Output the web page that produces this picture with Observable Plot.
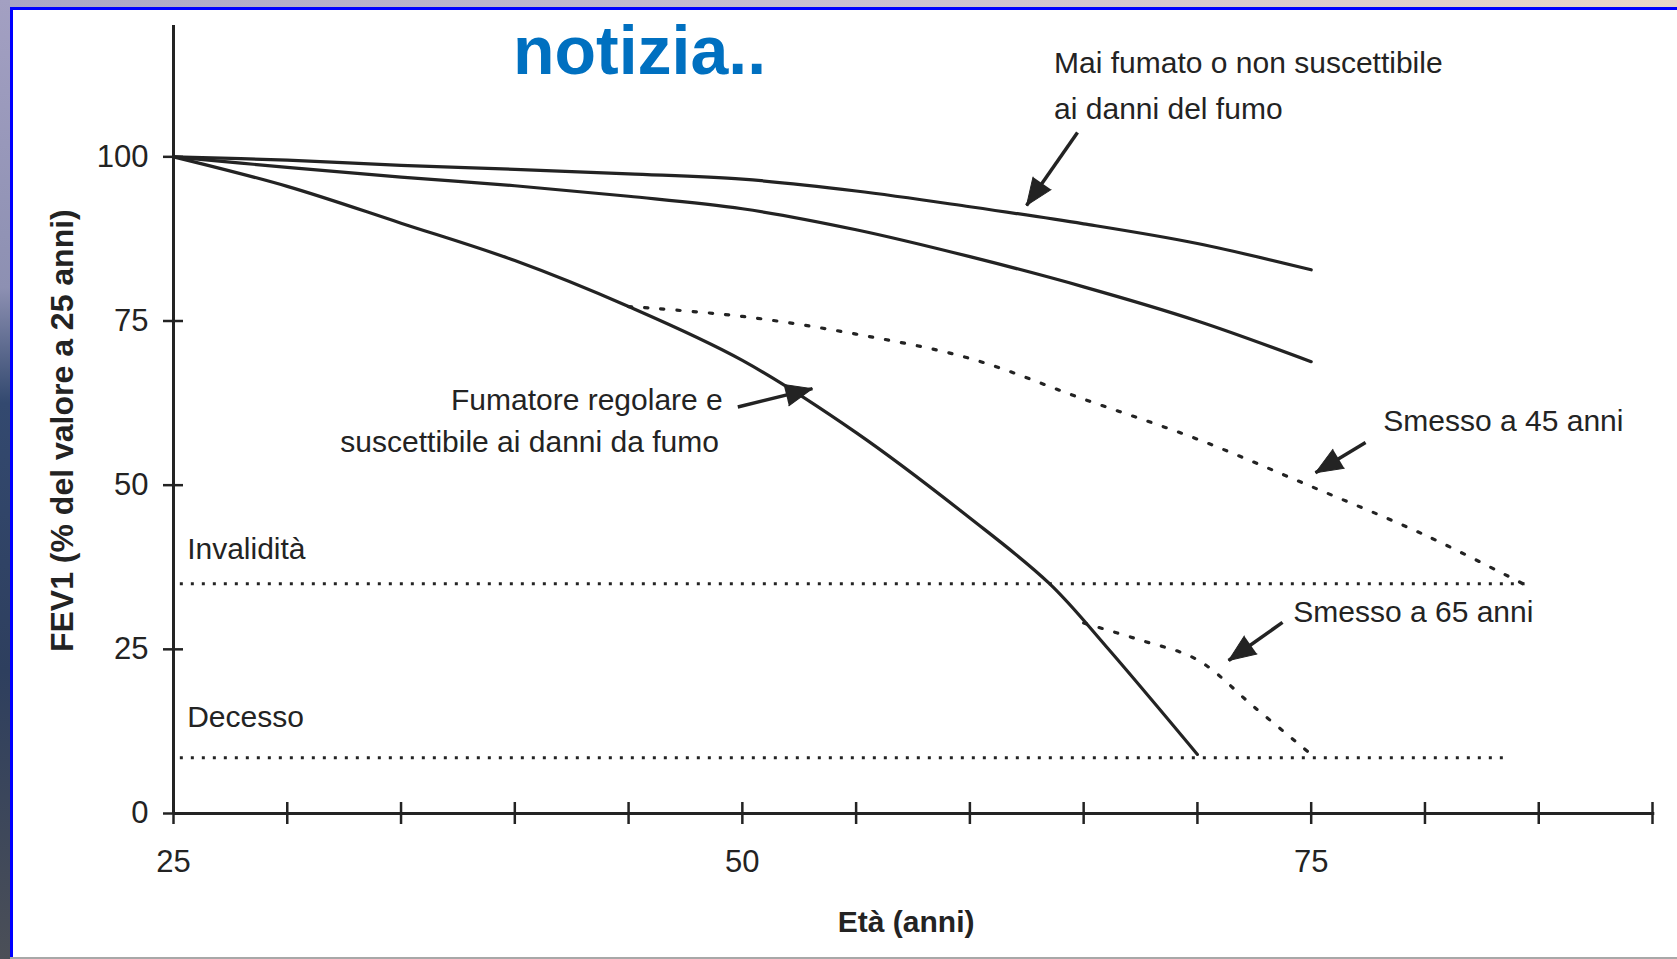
<!DOCTYPE html>
<html><head><meta charset="utf-8">
<script src="https://cdn.jsdelivr.net/npm/d3@7"></script>
<script src="https://cdn.jsdelivr.net/npm/@observablehq/plot@0.6"></script>
<style>
html,body{margin:0;padding:0;width:1677px;height:959px;overflow:hidden;}
body{position:relative;background:linear-gradient(to right,#a9a5c6 0%,#c9bfd2 50%,#e9d6c8 100%);font-family:"Liberation Sans",Arial,sans-serif;}
#leftstrip{position:absolute;left:0;top:0;width:10px;height:959px;background:linear-gradient(to bottom,#a3a0c2 0%,#8d90b2 30%,#33496f 42%,#2e3f5e 70%,#4b4f57 100%);}
#frame{position:absolute;left:10px;top:7px;width:1667px;height:950px;box-sizing:border-box;border-left:3px solid #0000ff;border-top:3px solid #0000ff;background:#fff;}
#bottomline{position:absolute;left:10px;top:957px;width:1667px;height:2px;background:#a8a8a8;}
#title{position:absolute;left:513px;top:16px;font:bold 68px "Liberation Sans",Arial,sans-serif;line-height:68px;color:#0070c0;white-space:nowrap;}
#chart{position:absolute;left:0;top:0;}
</style></head><body>
<div id="leftstrip"></div><div id="frame"></div><div id="bottomline"></div>
<div id="chart"></div>
<div id="title">notizia..</div>
<script>
// ---- data ----
const etaMai = [25, 30, 35, 40, 45, 50, 55, 60, 65, 70, 75];
const fevMai = [100, 99.5, 98.7, 98.1, 97.4, 96.6, 94.8, 92.4, 89.8, 86.8, 82.8];

const etaIntermedia = [25, 30, 35, 40, 45, 50, 55, 60, 65, 70, 75];
const fevIntermedia = [100, 98.4, 96.9, 95.6, 94.0, 92.1, 88.9, 84.8, 80.2, 75.0, 68.8];

const etaFumatore = [25, 30, 35, 40, 45, 50, 55, 60, 63.5, 66, 70];
const fevFumatore = [100, 95.5, 89.9, 84.2, 77.2, 69.0, 58.0, 45.0, 35.0, 25.4, 9.0];

const etaSmesso45 = [45, 50, 55, 60, 65, 70, 75, 80, 84.3];
const fevSmesso45 = [77.2, 75.7, 73.0, 69.3, 63.1, 57.0, 49.8, 42.4, 35.0];

const etaSmesso65 = [65, 67.5, 70, 72.5, 75];
const fevSmesso65 = [29.0, 26.4, 23.4, 16.2, 9.0];

const soglieNomi = ["Invalidità", "Decesso"];
const soglieValori = [35, 8.5];
const soglieDa = [25.3, 25.3];
const soglieA = [84.4, 83.5];

const xTickVals = [25, 30, 35, 40, 45, 50, 55, 60, 65, 70, 75, 80, 85, 90];
const xLabelVals = [25, 50, 75];
const yTickVals = [0, 25, 50, 75, 100];

const etichette = ["Mai fumato o non suscettibile", "ai danni del fumo", "Fumatore regolare e", "suscettibile ai danni da fumo", "Smesso a 45 anni", "Smesso a 65 anni", "Invalidità", "Decesso"];
const etichetteX = [63.7, 63.7, 49.14, 48.97, 78.17, 74.21, 25.6, 25.6];
const etichetteY = [112.8, 105.8, 61.5, 55.0, 58.3, 29.1, 38.8, 13.2];
const etichetteAnchor = ["start", "start", "end", "end", "start", "start", "start", "start"];

const frecceX1 = [64.73, 49.8, 77.39, 73.74];
const frecceY1 = [103.7, 61.9, 56.5, 29.1];
const frecceX2 = [62.49, 53.08, 75.19, 71.37];
const frecceY2 = [92.6, 64.7, 51.9, 23.3];

const titoloX = "Età (anni)";
const titoloY = "FEV1 (% del valore a 25 anni)";

// ---- layout ----
const W = 1677, H = 959, mL = 173, mR = 25, mT = 25, mB = 146;
const xDom = [25, 90], yDom = [0, 120];
const kx = (W - mL - mR) / (xDom[1] - xDom[0]);
const ky = (H - mT - mB) / (yDom[1] - yDom[0]);
const ink = "#232323";
const font = "'Liberation Sans', Arial, sans-serif";

const toRows = (serie, eta, fev) => eta.map((e, i) => ({serie, eta: e, fev: fev[i]}));
const solide = [
  ...toRows("mai", etaMai, fevMai),
  ...toRows("intermedia", etaIntermedia, fevIntermedia),
  ...toRows("fumatore", etaFumatore, fevFumatore)
];
const tratteggiate = [
  ...toRows("smesso45", etaSmesso45, fevSmesso45),
  ...toRows("smesso65", etaSmesso65, fevSmesso65)
];
const soglie = soglieNomi.map((n, i) => ({nome: n, fev: soglieValori[i], da: soglieDa[i], a: soglieA[i]}));
const labels = etichette.map((t, i) => ({t, x: etichetteX[i], y: etichetteY[i], anchor: etichetteAnchor[i]}));
const frecce = frecceX1.map((x1, i) => {
  const dxp = (frecceX2[i] - x1) * kx;
  const dyp = -(frecceY2[i] - frecceY1[i]) * ky;
  return {x1, y1: frecceY1[i], x2: frecceX2[i], y2: frecceY2[i], rot: Math.atan2(dxp, -dyp) * 180 / Math.PI};
});

const chart = Plot.plot({
  width: W, height: H,
  marginLeft: mL, marginRight: mR, marginTop: mT, marginBottom: mB,
  x: {domain: xDom, axis: null},
  y: {domain: yDom, axis: null},
  style: {background: "transparent", fontFamily: font, color: ink, overflow: "visible"},
  marks: [
    // threshold dotted lines
    Plot.ruleY(soglie, {y: "fev", x1: "da", x2: "a", stroke: ink, strokeWidth: 3, strokeDasharray: "3,8"}),
    // curves
    Plot.line(solide, {x: "eta", y: "fev", z: "serie", stroke: ink, strokeWidth: 3.2, curve: "catmull-rom"}),
    Plot.line(tratteggiate, {x: "eta", y: "fev", z: "serie", stroke: ink, strokeWidth: 3.2, strokeDasharray: "3.2,13", curve: "catmull-rom"}),
    // axes
    Plot.ruleX([xDom[0]], {y1: yDom[0], y2: yDom[1], stroke: ink, strokeWidth: 3}),
    Plot.ruleY([yDom[0]], {x1: xDom[0], x2: xDom[1] + 0.1, stroke: ink, strokeWidth: 3}),
    Plot.ruleX(xTickVals, {x: d => d, y1: -11 / ky, y2: 11 / ky, stroke: ink, strokeWidth: 2.5}),
    Plot.ruleY(yTickVals, {y: d => d, x1: xDom[0] - 10 / kx, x2: xDom[0] + 10 / kx, stroke: ink, strokeWidth: 2.5}),
    Plot.text(xLabelVals, {x: d => d, y: yDom[0], dy: 49, text: d => String(d), fontSize: 31, fill: ink}),
    Plot.text(yTickVals, {x: xDom[0], y: d => d, dx: -25, text: d => String(d), textAnchor: "end", fontSize: 31, fill: ink}),
    Plot.text([titoloX], {x: 57.2, y: yDom[0], dy: 109, text: d => d, fontSize: 30, fontWeight: "bold", fill: ink}),
    Plot.text([titoloY], {x: xDom[0], y: 58.3, dx: -111, text: d => d, rotate: -90, fontSize: 32, fontWeight: "bold", fill: ink}),
    // annotations
    Plot.text(labels.filter(d => d.anchor === "start"), {x: "x", y: "y", text: "t", textAnchor: "start", lineAnchor: "bottom", fontSize: 30, fill: ink}),
    Plot.text(labels.filter(d => d.anchor === "end"), {x: "x", y: "y", text: "t", textAnchor: "end", lineAnchor: "bottom", fontSize: 30, fill: ink}),
    // arrows
    Plot.link(frecce, {x1: "x1", y1: "y1", x2: "x2", y2: "y2", stroke: ink, strokeWidth: 3.5}),
    Plot.vector(frecce, {x: "x2", y: "y2", rotate: "rot", length: 27, r: 11, shape: "spike", anchor: "end", fill: ink, stroke: ink, strokeWidth: 1})
  ]
});
document.getElementById("chart").appendChild(chart);
</script></body></html>
